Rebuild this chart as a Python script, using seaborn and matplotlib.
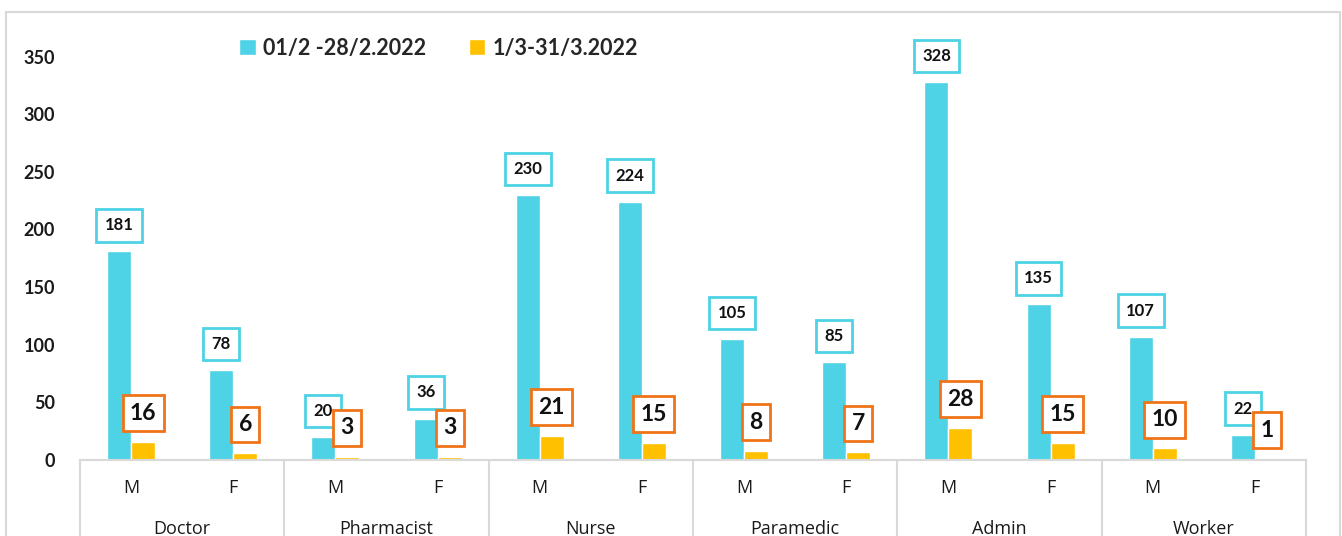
import numpy as np
import matplotlib
matplotlib.use("Agg")
import matplotlib.pyplot as plt
import matplotlib.transforms as mtransforms
from matplotlib.patches import Rectangle
import seaborn as sns
import pandas as pd

groups = ['Doctor', 'Pharmacist', 'Nurse', 'Paramedic', 'Admin', 'Worker']
sexes = ['M', 'F']
periods = ['01/2 -28/2.2022', '1/3-31/3.2022']
feb = [181, 78, 20, 36, 230, 224, 105, 85, 328, 135, 107, 22]
mar = [16, 6, 3, 3, 21, 15, 8, 7, 28, 15, 10, 1]

blue = '#4dd3e5'
yellow = '#ffc000'
orange = '#f07417'
grid_grey = '#d9d9d9'

slots = [g + ' ' + s for g in groups for s in sexes]
df = pd.DataFrame({
    'slot': slots * 2,
    'value': feb + mar,
    'period': [periods[0]] * len(slots) + [periods[1]] * len(slots),
})

sns.set_style('white')
plt.rcParams['font.family'] = ['Lato', 'DejaVu Sans']

fig = plt.figure(figsize=(13.42, 5.36), dpi=100)
W, H = 1342, 536
ax = fig.add_axes([80 / W, 1 - 460 / H, (1306 - 80) / W, (460 - 22) / H])

sns.barplot(data=df, x='slot', y='value', hue='period', order=slots,
            hue_order=periods, palette=[blue, yellow], width=0.47,
            saturation=1, ax=ax, legend=True)

ax.set_xlim(-0.5, len(slots) - 0.5)
ax.set_ylim(0, 380)
ax.set_yticks(np.arange(0, 351, 50))
ax.set_yticklabels([str(v) for v in range(0, 351, 50)], fontsize=13,
                   fontweight='bold', color='#1a1a1a')
ax.tick_params(axis='y', length=0, pad=18)
ax.set_xticks(range(len(slots)))
ax.set_xticklabels([s.split()[-1] for s in slots], fontsize=13,
                   family='Open Sans', color='#1a1a1a')
ax.tick_params(axis='x', length=0, pad=14)
ax.set_xlabel('')
ax.set_ylabel('')
for side in ['top', 'right', 'left']:
    ax.spines[side].set_visible(False)
ax.spines['bottom'].set_color(grid_grey)
ax.spines['bottom'].set_linewidth(1.5)

# group labels and dividers under the axis
trans = mtransforms.blended_transform_factory(ax.transData, ax.transAxes)
for i, g in enumerate(groups):
    ax.text(2 * i + 0.5, -69 / 438, g, transform=trans, ha='center',
            va='center', fontsize=13, family='Open Sans', color='#1a1a1a')
for b in np.arange(-0.5, len(slots), 2):
    ax.plot([b, b], [0, -0.4], transform=trans, color=grid_grey, lw=1.5,
            clip_on=False)

# data labels
for bars, vals, ec, fs, pad, off, z in [
        (ax.containers[0], feb, blue, 12, 0.5, 13, 5),
        (ax.containers[1], mar, orange, 16.5, 0.32, 13, 6)]:
    for bar, v in zip(bars, vals):
        x = bar.get_x() + bar.get_width() / 2
        ax.annotate(str(v), (x, bar.get_height()), xytext=(0, off),
                    textcoords='offset points', ha='center', va='bottom',
                    fontsize=fs, fontweight='bold', color='#111111',
                    zorder=z, annotation_clip=False,
                    bbox=dict(boxstyle='square,pad=%s' % pad, fc='white',
                              ec=ec, lw=2))

leg = ax.legend(loc='center left', bbox_to_anchor=(220 / W, 1 - 48 / H),
                bbox_transform=fig.transFigure, ncol=2, frameon=False,
                handlelength=0.75, handleheight=0.75, handletextpad=0.35,
                columnspacing=2.0, prop={'weight': 'bold', 'size': 15.5})

fig.patches.append(Rectangle((6 / W, -0.05), (1340 - 6) / W, 1.05 - 12 / H,
                             transform=fig.transFigure, fill=False,
                             ec=grid_grey, lw=1.5))

fig.savefig('out.png', dpi=100)
